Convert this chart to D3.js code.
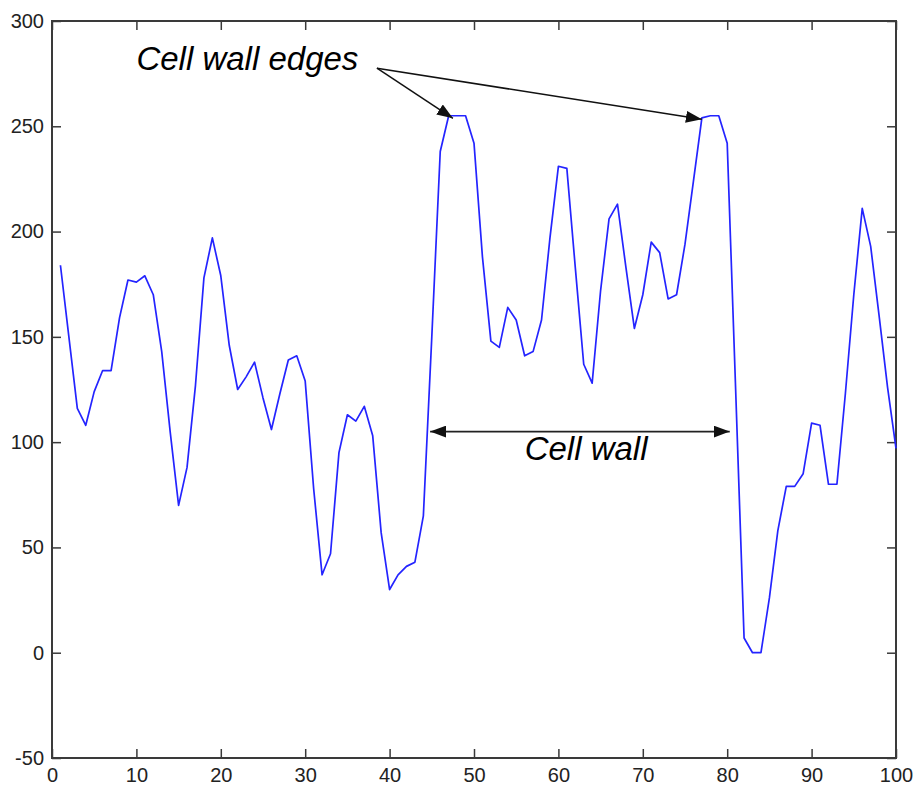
<!DOCTYPE html>
<html>
<head>
<meta charset="utf-8">
<script src="https://cdn.jsdelivr.net/npm/d3@7"></script>
<style>
  html, body { margin: 0; padding: 0; background: #fff; }
  svg { display: block; }
</style>
</head>
<body>
<svg id="chart" width="917" height="789"></svg>
<script>
// ---- data ----
const positions = d3.range(1, 101);
const intensity = [
  184, 150, 116, 108, 124, 134, 134, 159, 177, 176,
  179, 170, 143, 105, 70, 88, 127, 178, 197, 179,
  146, 125, 131, 138, 121, 106, 123, 139, 141, 129,
  78, 37, 47, 95, 113, 110, 117, 103, 57, 30,
  37, 41, 43, 65, 150, 238, 255, 255, 255, 242,
  188, 148, 145, 164, 158, 141, 143, 158, 197, 231,
  230, 183, 137, 128, 172, 206, 213, 183, 154, 170,
  195, 190, 168, 170, 194, 224, 254, 255, 255, 242,
  125, 7, 0, 0, 26, 58, 79, 79, 85, 109,
  108, 80, 80, 123, 170, 211, 193, 160, 126, 97
];
const xTicks = [0, 10, 20, 30, 40, 50, 60, 70, 80, 90, 100];
const yTicks = [-50, 0, 50, 100, 150, 200, 250, 300];
const edgeLabel = "Cell wall edges";
const wallLabel = "Cell wall";

// ---- layout ----
const W = 917, H = 789;
const margin = { left: 52, right: 21, top: 21, bottom: 31 };
const svg = d3.select("#chart");
const x = d3.scaleLinear().domain([0, 100]).range([margin.left, W - margin.right]);
const y = d3.scaleLinear().domain([-50, 300]).range([H - margin.bottom, margin.top]);
const font = '"Liberation Sans", Arial, sans-serif';

const defs = svg.append("defs");
defs.append("marker")
  .attr("id", "ah")
  .attr("viewBox", "0 0 16 12")
  .attr("refX", 16).attr("refY", 6)
  .attr("markerWidth", 16).attr("markerHeight", 12)
  .attr("markerUnits", "userSpaceOnUse")
  .attr("orient", "auto-start-reverse")
  .append("path").attr("d", "M0,0 L16,6 L0,12 Z").attr("fill", "#111");

// axes (ticks inward, on all four sides)
const tickLen = 9;
const axisColor = "#3a3a3a";
const fmt = d => String(d);
function styleAxis(g) {
  g.select(".domain").remove();
  g.attr("font-family", font).attr("font-size", 20);
  g.selectAll(".tick line").attr("stroke", axisColor).attr("stroke-width", 1.5);
  g.selectAll(".tick text").attr("fill", "#222");
}
svg.append("g").attr("transform", `translate(0,${y(-50)})`)
  .call(d3.axisBottom(x).tickValues(xTicks).tickSize(-tickLen).tickPadding(10).tickFormat(fmt))
  .call(styleAxis);
svg.append("g").attr("transform", `translate(0,${y(300)})`)
  .call(d3.axisTop(x).tickValues(xTicks).tickSize(-tickLen).tickFormat(""))
  .call(styleAxis);
svg.append("g").attr("transform", `translate(${x(0)},0)`)
  .call(d3.axisLeft(y).tickValues(yTicks).tickSize(-tickLen).tickPadding(8).tickFormat(fmt))
  .call(styleAxis);
svg.append("g").attr("transform", `translate(${x(100)},0)`)
  .call(d3.axisRight(y).tickValues(yTicks).tickSize(-tickLen).tickFormat(""))
  .call(styleAxis);

// frame
svg.append("rect")
  .attr("x", x(0)).attr("y", y(300))
  .attr("width", x(100) - x(0)).attr("height", y(-50) - y(300))
  .attr("fill", "none").attr("stroke", axisColor).attr("stroke-width", 2);

// line
const line = d3.line().x((d, i) => x(positions[i])).y(d => y(d));
svg.append("path")
  .datum(intensity)
  .attr("d", line)
  .attr("fill", "none")
  .attr("stroke", "#2424ff")
  .attr("stroke-width", 1.7)
  .attr("stroke-linejoin", "round");

// annotations
svg.append("text")
  .attr("x", x(10)).attr("y", y(276.7))
  .attr("font-family", font).attr("font-style", "italic").attr("font-size", 33)
  .attr("fill", "#000").text(edgeLabel);

const edgeFrom = [38.5, 277.6];
[[47.5, 253.8], [77.0, 253.3]].forEach(t => {
  svg.append("line")
    .attr("x1", x(edgeFrom[0])).attr("y1", y(edgeFrom[1]))
    .attr("x2", x(t[0])).attr("y2", y(t[1]))
    .attr("stroke", "#111").attr("stroke-width", 1.5)
    .attr("marker-end", "url(#ah)");
});

svg.append("line")
  .attr("x1", x(44.8)).attr("y1", y(105))
  .attr("x2", x(80.3)).attr("y2", y(105))
  .attr("stroke", "#222").attr("stroke-width", 1.6)
  .attr("marker-start", "url(#ah)")
  .attr("marker-end", "url(#ah)");

svg.append("text")
  .attr("x", x(56)).attr("y", y(91.3))
  .attr("font-family", font).attr("font-style", "italic").attr("font-size", 33)
  .attr("fill", "#000").text(wallLabel);
</script>
</body>
</html>
